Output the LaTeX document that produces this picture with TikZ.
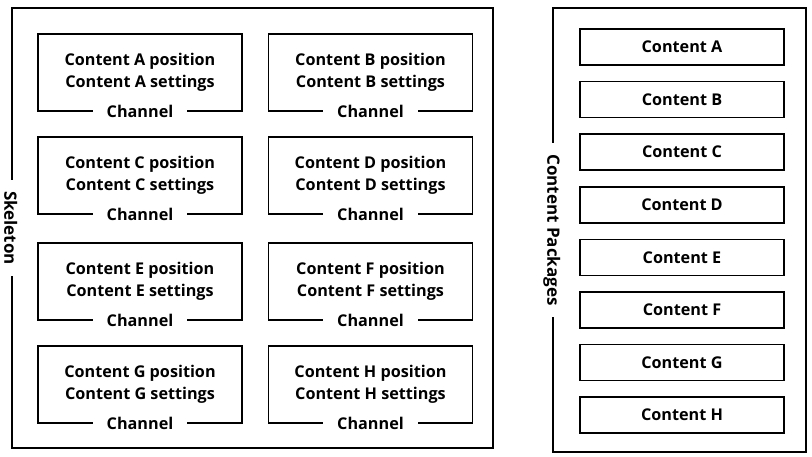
\documentclass[tikz,border=0pt]{standalone}
\usepackage{fontspec}
\setmainfont{Open Sans}
\begin{document}
\begin{tikzpicture}[x=1pt,y=-1pt,
  every node/.style={font=\bfseries\fontsize{16.2}{22}\selectfont},
  frame/.style={draw,line width=2.6pt},
  cbox/.style={draw,line width=1.3pt,minimum width=204pt,minimum height=77pt,align=center,inner sep=0pt},
  chan/.style={fill=white,inner xsep=14pt,inner ysep=2pt},
  pbox/.style={draw,line width=1.6pt,minimum width=204pt,minimum height=36pt,inner sep=0pt},
  ftitle/.style={fill=white,rotate=-90,inner xsep=11pt,inner ysep=1pt}]
\useasboundingbox (0,0) rectangle (812,456);
% frames
\node[frame,minimum width=481pt,minimum height=440pt] (skel) at (252.5,228) {};
\node[ftitle,font=\bfseries\fontsize{17}{22}\selectfont] (skelt) at (skel.west) {Skeleton};
\node[frame,minimum width=253pt,minimum height=444pt] (pack) at (679.5,230) {};
\node[ftitle,font=\bfseries\fontsize{17}{22}\selectfont] (packt) at (pack.west) {Content Packages};
% content boxes
\foreach \n/\x/\y in {A/140/72.5,B/370.5/72.5,C/140/175.5,D/370.5/175.5,E/140/281.5,F/370.5/281.5,G/140/384.5,H/370.5/384.5}{
  \node[cbox] (box\n) at (\x,\y) {Content \n{} position\\Content \n{} settings};
  \node[chan] (ch\n) at (box\n.south) {Channel};
}
% packages
\foreach \n [count=\i from 0] in {A,B,C,D,E,F,G,H}{
  \node[pbox] (pk\n) at (682,{47+52.6*\i}) {Content \n};
}
\end{tikzpicture}
\end{document}
